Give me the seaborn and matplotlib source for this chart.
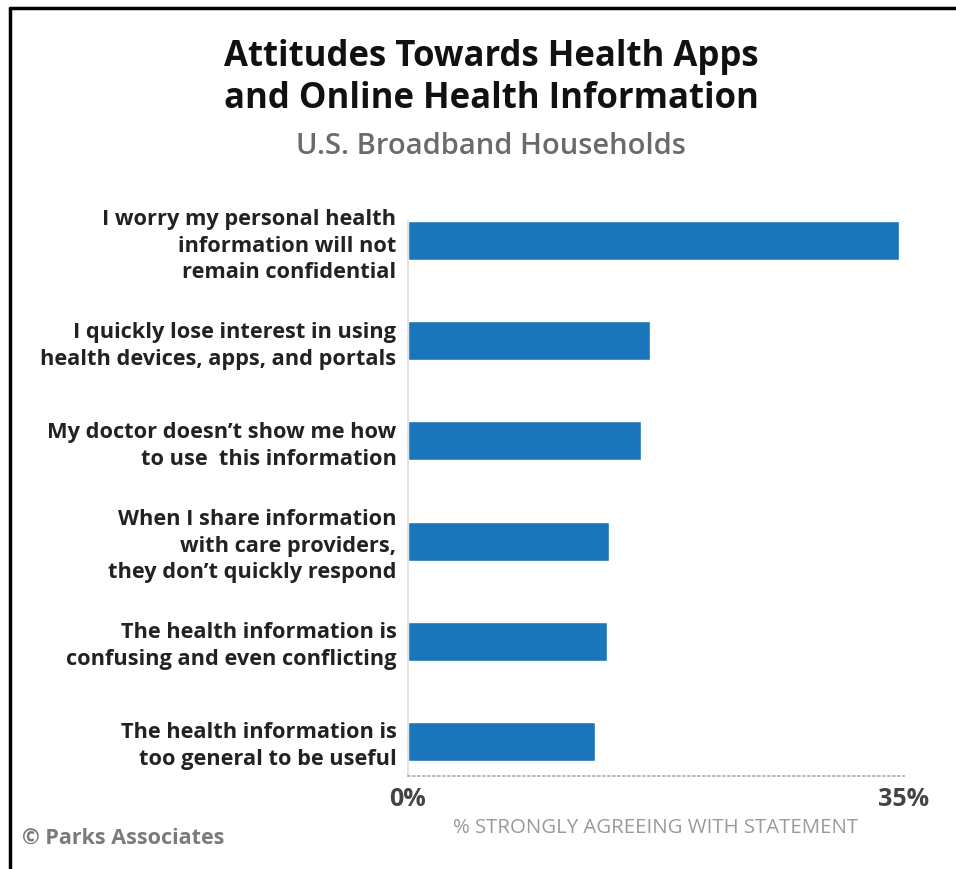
import matplotlib
matplotlib.use("Agg")
import matplotlib.pyplot as plt
from matplotlib.lines import Line2D
import seaborn as sns
import pandas as pd

categories = [
    "I worry my personal health\ninformation will not\nremain confidential",
    "I quickly lose interest in using\nhealth devices, apps, and portals",
    "My doctor doesn\u2019t show me how\nto use  this information",
    "When I share information\nwith care providers,\nthey don\u2019t quickly respond",
    "The health information is\nconfusing and even conflicting",
    "The health information is\ntoo general to be useful",
]
values = [34.7, 17.1, 16.5, 14.2, 14.1, 13.2]
tick_values = [0, 35]
tick_labels = ["0%", "35%"]

sns.set_theme(style="white")
plt.rcParams["font.family"] = ["Open Sans", "DejaVu Sans"]

W, H = 956, 869
fig = plt.figure(figsize=(W / 100, H / 100), dpi=100)
ax = fig.add_axes([407.5 / W, (H - 776) / H, 496 / W, 585 / H])

df = pd.DataFrame({"category": categories, "value": values})
sns.barplot(data=df, x="value", y="category", color="#1b75bb", saturation=1,
            width=0.39, ax=ax, orient="h")

ax.set_xlim(0, 35)
ax.set_ylim(5.35, -0.5)
ax.set_xticks(tick_values)
ax.set_xticklabels(tick_labels, fontsize=18, fontweight="bold", color="#444444")
ax.tick_params(axis="x", length=0, pad=8)
ax.tick_params(axis="y", length=0, pad=8)
for lab in ax.get_yticklabels():
    lab.set_fontweight("bold")
    lab.set_fontsize(15.7)
    lab.set_color("#222222")
    lab.set_linespacing(1.32)
ax.set_ylabel("")
ax.set_xlabel("% STRONGLY AGREEING WITH STATEMENT", fontsize=14.7, color="#9a9a9a",
              labelpad=4)

for s in ["top", "right"]:
    ax.spines[s].set_visible(False)
ax.spines["left"].set_color("#dddddd")
ax.spines["left"].set_linewidth(1.2)
ax.spines["left"].set_bounds(5.35, -0.2)
ax.spines["bottom"].set_color("#aaaaaa")
ax.spines["bottom"].set_linestyle((0, (1, 2)))
ax.spines["bottom"].set_linewidth(1.2)

fig.text(491 / W, 1 - 78 / H, "Attitudes Towards Health Apps\nand Online Health Information",
         ha="center", va="center", fontsize=25, fontweight="bold", color="#111111",
         linespacing=1.2)
fig.text(491 / W, 1 - 146 / H, "U.S. Broadband Households", ha="center", va="center",
         fontsize=21, fontweight="semibold", color="#6a6a6a")
fig.text(22 / W, 1 - 838 / H, "\u00a9 Parks Associates", ha="left", va="center",
         fontsize=15.5, fontweight="bold", color="#7a7a7a")

# border (top and left)
fig.add_artist(Line2D([10 / W, 1], [1 - 8 / H, 1 - 8 / H], transform=fig.transFigure,
                      color="black", linewidth=2.5))
fig.add_artist(Line2D([10 / W, 10 / W], [0, 1 - 8 / H], transform=fig.transFigure,
                      color="black", linewidth=2.5))

fig.savefig("out.png", dpi=100)
